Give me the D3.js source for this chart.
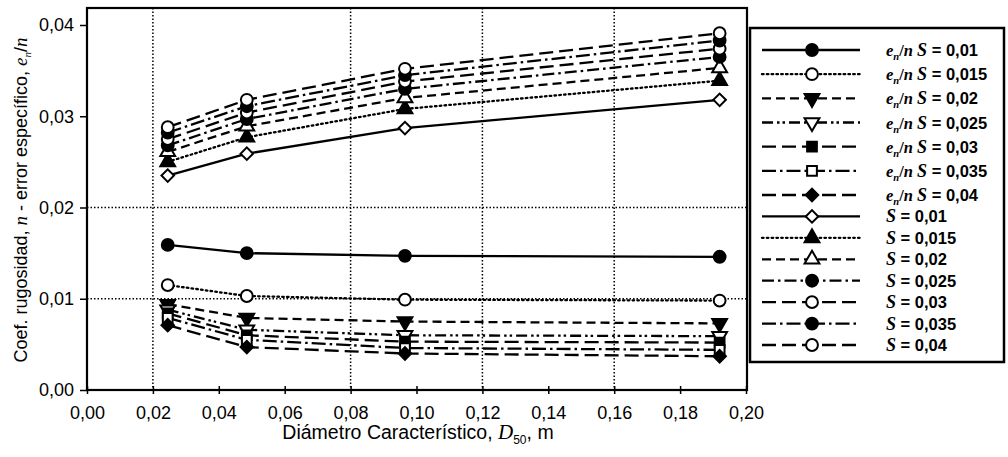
<!DOCTYPE html>
<html>
<head>
<meta charset="utf-8">
<script src="https://cdn.jsdelivr.net/npm/d3@7/dist/d3.min.js"></script>
<style>
  html, body { margin: 0; padding: 0; background: #fff; }
  svg { display: block; }
  text { fill: #000; }
</style>
</head>
<body>
<svg id="chart" width="1008" height="457"></svg>
<script>
// Characteristic diameter D50 (m) of the tested beds
const diameters = [0.0245, 0.0485, 0.0965, 0.192];

// Slope labels shared by both families of curves
const slopes = ["0,01", "0,015", "0,02", "0,025", "0,03", "0,035", "0,04"];

// Specific error e_n/n for each slope
const errS001  = [0.0159, 0.0150, 0.0147, 0.0146];
const errS0015 = [0.0115, 0.0103, 0.0099, 0.0098];
const errS002  = [0.0094, 0.0079, 0.0075, 0.0073];
const errS0025 = [0.0088, 0.0066, 0.0060, 0.0059];
const errS003  = [0.0084, 0.0060, 0.0053, 0.0052];
const errS0035 = [0.0079, 0.0055, 0.0046, 0.0044];
const errS004  = [0.0071, 0.0047, 0.0040, 0.0037];

// Roughness coefficient n for each slope
const nS001  = [0.0235, 0.0259, 0.0287, 0.0318];
const nS0015 = [0.0250, 0.0277, 0.0308, 0.0339];
const nS002  = [0.0261, 0.0289, 0.0320, 0.0353];
const nS0025 = [0.0268, 0.0297, 0.0330, 0.0365];
const nS003  = [0.0275, 0.0304, 0.0338, 0.0374];
const nS0035 = [0.0282, 0.0311, 0.0345, 0.0383];
const nS004  = [0.0288, 0.0318, 0.0352, 0.0391];

const xTicks = [0, 0.02, 0.04, 0.06, 0.08, 0.10, 0.12, 0.14, 0.16, 0.18, 0.20];
const yTicks = [0, 0.01, 0.02, 0.03, 0.04];
const xGrid = [0.02, 0.08, 0.12, 0.16];
const yGrid = [0.01, 0.02];

// Line / marker styles
const DOT = "1.6,3.2", DASH = "9,5", DASHDOT = "12,4,2.5,4", LONG = "14,6",
      DASH2DOT = "11,4,2.5,3,2.5,4", LONGDOT = "14,4,2.5,4";

const series = [
  { kind: "err", slope: slopes[0], values: errS001,  dash: null,     shape: "circle",   fill: true  },
  { kind: "err", slope: slopes[1], values: errS0015, dash: DOT,      shape: "circle",   fill: false },
  { kind: "err", slope: slopes[2], values: errS002,  dash: DASH,     shape: "triDown",  fill: true  },
  { kind: "err", slope: slopes[3], values: errS0025, dash: DASH2DOT, shape: "triDown",  fill: false },
  { kind: "err", slope: slopes[4], values: errS003,  dash: LONG,     shape: "square",   fill: true  },
  { kind: "err", slope: slopes[5], values: errS0035, dash: LONGDOT,  shape: "square",   fill: false },
  { kind: "err", slope: slopes[6], values: errS004,  dash: LONG,     shape: "diamond",  fill: true  },
  { kind: "n",   slope: slopes[0], values: nS001,    dash: null,     shape: "diamond",  fill: false },
  { kind: "n",   slope: slopes[1], values: nS0015,   dash: DOT,      shape: "triUp",    fill: true  },
  { kind: "n",   slope: slopes[2], values: nS002,    dash: DASH,     shape: "triUp",    fill: false },
  { kind: "n",   slope: slopes[3], values: nS0025,   dash: DASHDOT,  shape: "circle",   fill: true  },
  { kind: "n",   slope: slopes[4], values: nS003,    dash: LONG,     shape: "circle",   fill: false },
  { kind: "n",   slope: slopes[5], values: nS0035,   dash: LONGDOT,  shape: "circle",   fill: true  },
  { kind: "n",   slope: slopes[6], values: nS004,    dash: LONG,     shape: "circle",   fill: false }
];

const svg = d3.select("#chart");
const plot = { left: 87, right: 747, top: 8, bottom: 390 };
const sans = "Liberation Sans, Arial, sans-serif";
const serif = "Liberation Serif, Times New Roman, serif";

const x = d3.scaleLinear().domain([0, 0.20]).range([87, 746]);
const y = d3.scaleLinear().domain([0, 0.04]).range([390, 25]);

const comma = v => d3.format(".2f")(v).replace(".", ",");

// Gridlines (dotted)
svg.append("g").selectAll("line").data(xGrid).join("line")
  .attr("x1", d => x(d)).attr("x2", d => x(d))
  .attr("y1", plot.top).attr("y2", plot.bottom)
  .attr("stroke", "#000").attr("stroke-width", 1.5)
  .attr("stroke-dasharray", "1.5,2");
svg.append("g").selectAll("line").data(yGrid).join("line")
  .attr("x1", plot.left).attr("x2", plot.right)
  .attr("y1", d => y(d)).attr("y2", d => y(d))
  .attr("stroke", "#000").attr("stroke-width", 1.5)
  .attr("stroke-dasharray", "1.5,2");

// Plot frame
svg.append("rect")
  .attr("x", plot.left).attr("y", plot.top)
  .attr("width", plot.right - plot.left).attr("height", plot.bottom - plot.top)
  .attr("fill", "none").attr("stroke", "#000").attr("stroke-width", 2.2);

// Axes
const yAxis = d3.axisLeft(y).tickValues(yTicks).tickFormat(comma).tickSize(7).tickPadding(6);
const gy = svg.append("g").attr("transform", `translate(${plot.left},0)`).call(yAxis);
gy.select(".domain").remove();
gy.selectAll("line").attr("stroke-width", 1.5);
gy.selectAll("text").attr("font-family", sans).attr("font-size", 18);

const xAxis = d3.axisBottom(x).tickValues(xTicks).tickFormat(comma).tickSize(4).tickPadding(12);
const gx = svg.append("g").attr("transform", `translate(0,${plot.bottom})`).call(xAxis);
gx.select(".domain").remove();
gx.selectAll("line").attr("y1", -4).attr("stroke-width", 1.5);
gx.selectAll("text").attr("font-family", sans).attr("font-size", 18);

// Marker factory
function marker(sel, s) {
  const sym = d3.symbol();
  let rot = 0;
  if (s.shape === "circle") sym.type(d3.symbolCircle).size(110);
  else if (s.shape === "square") sym.type(d3.symbolSquare).size(95);
  else if (s.shape === "diamond") { sym.type(d3.symbolSquare).size(78); rot = 45; }
  else if (s.shape === "triUp") sym.type(d3.symbolTriangle).size(95);
  else if (s.shape === "triDown") { sym.type(d3.symbolTriangle).size(95); rot = 180; }
  sel.append("path").attr("d", sym())
    .attr("transform", `rotate(${rot})`)
    .attr("fill", s.fill ? "#000" : "#fff")
    .attr("stroke", "#000").attr("stroke-width", 2);
}

const line = d3.line().x((d, i) => x(diameters[i])).y(d => y(d));

const gSeries = svg.append("g");
series.forEach(s => {
  gSeries.append("path").attr("d", line(s.values))
    .attr("fill", "none").attr("stroke", "#000").attr("stroke-width", 2.3)
    .attr("stroke-dasharray", s.dash)
    .attr("stroke-linecap", s.dash === DOT ? "round" : "butt");
});
series.forEach(s => {
  s.values.forEach((v, i) => {
    const g = gSeries.append("g").attr("transform", `translate(${x(diameters[i])},${y(v)})`);
    marker(g, s);
  });
});

// Legend
const legend = svg.append("g");
legend.append("rect").attr("x", 750).attr("y", 28).attr("width", 254).attr("height", 334)
  .attr("fill", "#fff").attr("stroke", "#000").attr("stroke-width", 2.5);

const rowY = d3.scaleLinear().domain([0, 6, 13]).range([50, 195, 345]);
series.forEach((s, i) => {
  const yy = rowY(i);
  const g = legend.append("g").attr("transform", `translate(0,${yy})`);
  g.append("line").attr("x1", 762).attr("x2", 860).attr("y1", 0).attr("y2", 0)
    .attr("stroke", "#000").attr("stroke-width", 2.3)
    .attr("stroke-dasharray", s.dash)
    .attr("stroke-linecap", s.dash === DOT ? "round" : "butt");
  const m = g.append("g").attr("transform", "translate(812,0)");
  marker(m, s);

  const t = g.append("text").attr("x", 886).attr("y", 6)
    .attr("font-family", sans).attr("font-weight", "bold").attr("font-size", 16.5);
  if (s.kind === "err") {
    t.append("tspan").attr("font-family", serif).attr("font-style", "italic").text("e");
    t.append("tspan").attr("font-family", serif).attr("font-style", "italic")
      .attr("font-size", 10.5).attr("dy", 4).text("n");
    t.append("tspan").attr("font-family", serif).attr("dy", -4).text("/");
    t.append("tspan").attr("font-family", serif).attr("font-style", "italic").text("n ");
  }
  t.append("tspan").attr("font-family", serif).attr("font-style", "italic")
    .attr("font-size", 18).text("S");
  t.append("tspan").text(" = " + s.slope);
});

// Axis titles
const xt = svg.append("text").attr("x", 418).attr("y", 439).attr("text-anchor", "middle")
  .attr("font-family", sans).attr("font-size", 19.5);
xt.append("tspan").text("Diámetro Característico, ");
xt.append("tspan").attr("font-family", serif).attr("font-style", "italic")
  .attr("font-size", 21).text("D");
xt.append("tspan").attr("font-size", 12).attr("dy", 5).text("50");
xt.append("tspan").attr("dy", -5).text(", m");

const yt = svg.append("text").attr("transform", "translate(27,200) rotate(-90)")
  .attr("text-anchor", "middle")
  .attr("font-family", sans).attr("font-size", 18);
yt.append("tspan").text("Coef. rugosidad, ");
yt.append("tspan").attr("font-family", serif).attr("font-style", "italic").attr("font-size", 19).text("n");
yt.append("tspan").text(" - error específico, ");
yt.append("tspan").attr("font-family", serif).attr("font-style", "italic").attr("font-size", 19).text("e");
yt.append("tspan").attr("font-family", serif).attr("font-style", "italic")
  .attr("font-size", 11).attr("dy", 4).text("n");
yt.append("tspan").attr("dy", -4).text("/");
yt.append("tspan").attr("font-family", serif).attr("font-style", "italic").attr("font-size", 19).text("n");
</script>
</body>
</html>
